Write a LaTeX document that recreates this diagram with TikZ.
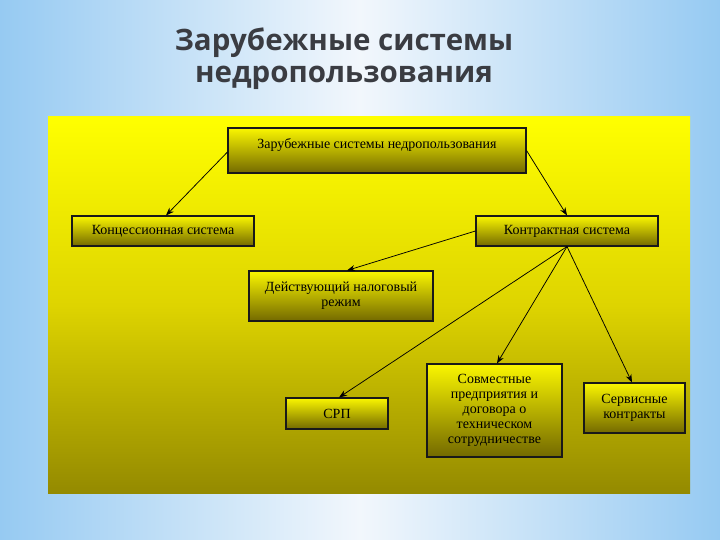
\documentclass[tikz,border=0pt]{standalone}
\usepackage{fontspec}
\setmainfont{Liberation Serif}
\newfontfamily\titlefont{Open Sans}
\usetikzlibrary{shadows,arrows.meta}
\definecolor{bgedge}{RGB}{150,202,242}
\definecolor{bgmid}{RGB}{242,247,252}
\definecolor{paneltop}{RGB}{255,255,0}
\definecolor{panelmid}{RGB}{222,212,0}
\definecolor{panelbot}{RGB}{148,138,0}
\definecolor{boxtop}{RGB}{250,246,0}
\definecolor{boxbot}{RGB}{115,105,0}
\definecolor{titlegray}{RGB}{58,60,66}
\tikzset{
  box/.style={draw=black!90, line width=1.1pt, inner sep=0pt, align=center,
    top color=boxtop, bottom color=boxbot, text=black,
    font=\fontsize{14}{15}\selectfont,
    drop shadow={shadow xshift=1.2pt, shadow yshift=-1.2pt, opacity=0.45}},
  conn/.style={line width=0.75pt, -{Stealth[length=8pt,width=6pt]}}
}
\begin{document}
\begin{tikzpicture}[x=1pt,y=-1pt]
\useasboundingbox (0,0) rectangle (720,540);
% background
\shade[left color=bgedge, right color=bgedge, middle color=bgmid] (0,0) rectangle (720,540);
% title
\node[font=\titlefont\bfseries\fontsize{29.5}{32}\selectfont, text=titlegray, align=center, anchor=base] (title) at (344,83)
  {Зарубежные системы\\недропользования};
% panel
\shade[top color=paneltop, bottom color=panelbot, middle color=panelmid] (48,117) rectangle (690,493);
% boxes
\node[box, minimum width=298pt, minimum height=45pt, text height=8pt, text depth=11pt] (top) at (377,150.5)
  {Зарубежные системы недропользования};
\node[box, minimum width=182pt, minimum height=30pt] (kons) at (163,231) {Концессионная система};
\node[box, minimum width=182pt, minimum height=30pt] (kontr) at (567,231) {Контрактная система};
\node[box, minimum width=184pt, minimum height=50pt] (deyst) at (341,296) {Действующий налоговый\\режим};
\node[box, minimum width=102pt, minimum height=31pt] (srp) at (337,413.5) {СРП};
\node[box, minimum width=135pt, minimum height=93pt] (sovm) at (494.5,410.5)
  {Совместные\\предприятия и\\договора о\\техническом\\сотрудничестве};
\node[box, minimum width=101pt, minimum height=50pt] (serv) at (634.5,408) {Сервисные\\контракты};
% connectors
\draw[conn] ([yshift=-1.5pt]top.west) -- ([xshift=3pt]kons.north);
\draw[conn] (top.east) -- (kontr.north);
\draw[conn] (kontr.west) -- ([xshift=6pt]deyst.north);
\draw[conn] (kontr.south) -- ([xshift=2pt]srp.north);
\draw[conn] (kontr.south) -- ([xshift=2.5pt]sovm.north);
\draw[conn] (kontr.south) -- ([xshift=-2.5pt]serv.north);
\end{tikzpicture}
\end{document}
